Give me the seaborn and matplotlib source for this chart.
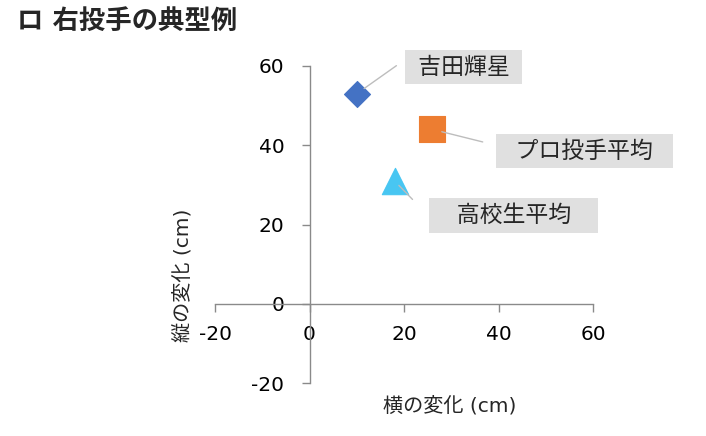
import matplotlib
matplotlib.use("Agg")
import matplotlib.pyplot as plt
import seaborn as sns
import pandas as pd

# ---- data ----
names = ["吉田輝星", "プロ投手平均", "高校生平均"]
horizontal = [10, 26, 18]     # 横の変化 (cm)
vertical = [53, 44, 31]       # 縦の変化 (cm)
label_x = [32.6, 58.2, 43.2]  # label box centres (data units)
label_y = [59.7, 38.5, 22.3]
ticks = [-20, 0, 20, 40, 60]

colors = {"吉田輝星": "#4472C4", "プロ投手平均": "#ED7D31", "高校生平均": "#48C6F2"}
markers = {"吉田輝星": "D", "プロ投手平均": "s", "高校生平均": "^"}
sizes = {"吉田輝星": 175, "プロ投手平均": 370, "高校生平均": 360}
box_pad = {"吉田輝星": " ", "プロ投手平均": "  ", "高校生平均": "   "}
leader_rel = {"吉田輝星": (0.0, 1.0), "プロ投手平均": (0.0, 0.7), "高校生平均": (0.0, 0.2)}
leader_gap = {"吉田輝星": 7.4, "プロ投手平均": 9.6, "高校生平均": 17}
leader_start = {"吉田輝星": 6.5, "プロ投手平均": 7, "高校生平均": 4.5}

df = pd.DataFrame({"name": names, "x": horizontal, "y": vertical})

sns.set_style("white")
plt.rcParams["font.family"] = ["DejaVu Sans", "Noto Sans CJK JP"]

fig = plt.figure(figsize=(7.06, 4.36), dpi=100)
ax = fig.add_axes([215 / 706, (436 - 383) / 436, 378 / 706, 317 / 436])

for n in names:
    sub = df[df["name"] == n]
    sns.scatterplot(data=sub, x="x", y="y", marker=markers[n], s=sizes[n],
                    color=colors[n], edgecolor=colors[n], linewidth=0.8,
                    ax=ax, legend=False, zorder=3)

ax.set_xlim(-20, 60)
ax.set_ylim(-20, 60)
ax.set_xticks(ticks)
ax.set_yticks(ticks)
ax.set_xticklabels([str(t) for t in ticks])
ax.set_yticklabels([str(t) for t in ticks])

gray = "#8A8A8A"
for side in ["top", "right"]:
    ax.spines[side].set_visible(False)
ax.spines["left"].set_position(("data", 0))
ax.spines["bottom"].set_position(("data", 0))
for side in ["left", "bottom"]:
    ax.spines[side].set_color(gray)
    ax.spines[side].set_linewidth(1.0)

ax.tick_params(axis="both", direction="out", length=6, width=1, color=gray,
               labelsize=14.5, labelcolor="#000000")
ax.tick_params(axis="y", pad=12, left=True)
ax.tick_params(axis="x", pad=9, bottom=True)

ax.set_xlabel("")
ax.set_ylabel("")

fig.text(450 / 706, 1 - 406 / 436, "横の変化 (cm)", ha="center", va="center",
         fontsize=14.5)
fig.text(183 / 706, 1 - 275 / 436, "縦の変化 (cm)", ha="center", va="center",
         fontsize=14.5, rotation=90)

# annotations with leader lines (drawn above the markers)
for n, px, py, lx, ly in zip(names, horizontal, vertical, label_x, label_y):
    ax.annotate(box_pad[n] + n + box_pad[n], xy=(px, py), xytext=(lx, ly),
                ha="center", va="center", fontsize=16.5,
                bbox=dict(boxstyle="square,pad=0.25", fc="#E0E0E0", ec="none"),
                arrowprops=dict(arrowstyle="-", color="#BDBDBD", lw=1,
                                relpos=leader_rel[n],
                                shrinkA=leader_gap[n], shrinkB=leader_start[n]),
                zorder=4)

fig.text(17 / 706, 1 - 22 / 436, "ロ 右投手の典型例", ha="left", va="center",
         fontsize=19, fontweight="bold")

fig.savefig("out.png", dpi=100, facecolor="white")
